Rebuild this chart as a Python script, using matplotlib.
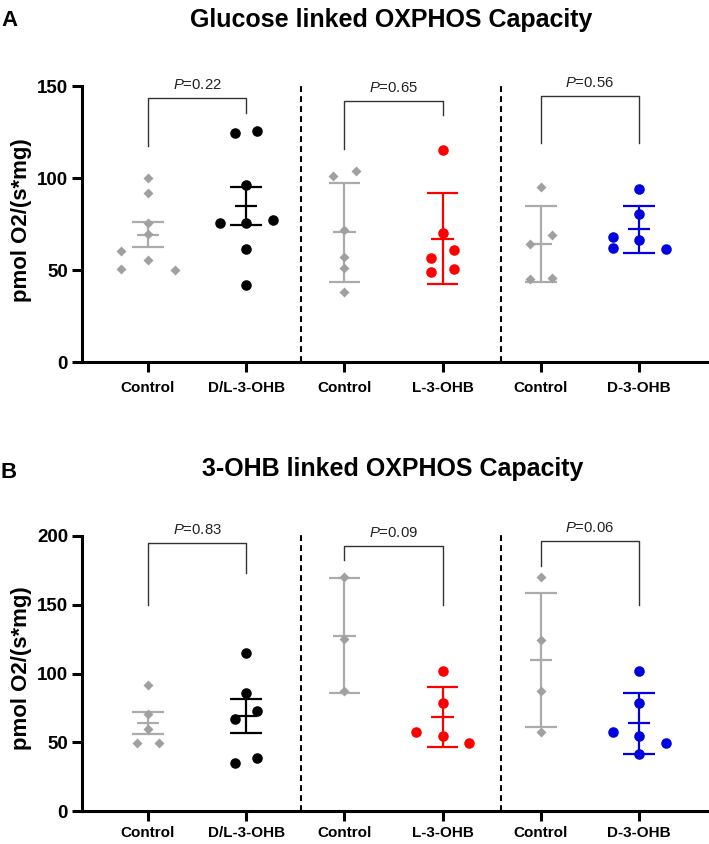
import numpy as np
import matplotlib
matplotlib.use("Agg")
import matplotlib.pyplot as plt

plt.rcParams['font.family'] = ['Liberation Sans', 'DejaVu Sans']
plt.rcParams['mathtext.fontset'] = 'custom'
plt.rcParams['mathtext.rm'] = 'Liberation Sans'
plt.rcParams['mathtext.it'] = 'Liberation Sans:italic'

groups = ["Control", "D/L-3-OHB", "Control", "L-3-OHB", "Control", "D-3-OHB"]
err_kind = ["sem", "sem", "sd", "sd", "sd", "sd"]

# A: glucose linked OXPHOS capacity
glc_ctrl_dl = [100.2, 91.8, 75.7, 69.4, 55.3, 50.2, 60.3, 50.7]
glc_dl = [124.5, 125.4, 96.0, 75.7, 77.0, 75.4, 61.4, 41.7]
glc_ctrl_l = [101.1, 103.6, 71.9, 57.0, 51.3, 38.0]
glc_l = [115.2, 70.3, 56.7, 60.7, 49.1, 50.4]
glc_ctrl_d = [95.3, 64.3, 69.2, 45.1, 45.5]
glc_d = [94.2, 80.2, 66.3, 67.9, 61.6, 62.1]
glc_p = ["0.22", "0.65", "0.56"]

# B: 3-OHB linked OXPHOS capacity
ohb_ctrl_dl = [91.9, 70.3, 59.4, 49.7, 49.7]
ohb_dl = [115.2, 85.6, 66.7, 73.0, 34.7, 38.8]
ohb_ctrl_l = [170.4, 124.8, 87.3]
ohb_l = [101.8, 78.3, 57.7, 49.2, 54.3]
ohb_ctrl_d = [170.4, 124.4, 87.5, 57.2]
ohb_d = [101.8, 78.3, 54.5, 57.2, 41.5, 49.2]
ohb_p = ["0.83", "0.09", "0.06"]

GRAY = '#a0a0a0'
GRAY_BAR = '#ababab'
styles = [('D', GRAY, GRAY_BAR), ('o', 'black', 'black'),
          ('D', GRAY, GRAY_BAR), ('o', '#ff0000', '#ff0000'),
          ('D', GRAY, GRAY_BAR), ('o', '#0000e0', '#0000e0')]


def swarm(vals, h, step=0.27, pair=0.115):
    # spread points that sit too close in y, roughly like Prism does
    vals = np.asarray(vals, float)
    order = np.argsort(-vals)
    offs = np.zeros(len(vals))
    clusters, cur = [], [order[0]]
    for i in order[1:]:
        if vals[cur[-1]] - vals[i] < h:
            cur.append(i)
        else:
            clusters.append(cur)
            cur = [i]
    clusters.append(cur)
    for c in clusters:
        if len(c) == 2:
            lo, hi = sorted(c, key=lambda k: vals[k])
            offs[lo], offs[hi] = -pair, pair
        elif len(c) > 2:
            cm = vals[c].mean()
            placed = []
            nside = 0
            for k in sorted(c, key=lambda k: abs(vals[k] - cm)):
                sgn = -1 if nside % 2 == 0 else 1
                for cand in (0, sgn * step, -sgn * step, 2 * sgn * step, -2 * sgn * step):
                    if all(abs(offs[j] - cand) > 1e-9 or abs(vals[j] - vals[k]) >= h for j in placed):
                        offs[k] = cand
                        break
                if offs[k] != 0:
                    nside += 1
                placed.append(k)
    return offs


def panel(ax, data, pvals, ymax, brackets, ax_h_px, xpad):
    h = 10.0 * ymax / ax_h_px
    for i, vals in enumerate(data):
        x0 = i + 1
        mk, col, bcol = styles[i]
        v = np.asarray(vals)
        m = v.mean()
        e = v.std(ddof=1)
        if err_kind[i] == "sem":
            e = e / np.sqrt(len(v))
        ax.vlines(x0, m - e, m + e, color=bcol, lw=1.6, zorder=2)
        ax.hlines([m - e, m + e], x0 - 0.16, x0 + 0.16, color=bcol, lw=1.6, zorder=2)
        ax.hlines(m, x0 - 0.115, x0 + 0.115, color=bcol, lw=1.6, zorder=2)
        ms = 5.3 if mk == 'D' else 7.6
        ax.plot(x0 + swarm(v, h), v, ls='none', marker=mk, ms=ms, color=col,
                mec='none', zorder=3)

    for j, (p, (yt, yl, yr)) in enumerate(zip(pvals, brackets)):
        x1, x2 = 2 * j + 1, 2 * j + 2
        ax.plot([x1, x1, x2, x2], [yl, yt, yt, yr], color='#333333', lw=1.0)
        ax.annotate(r'$\mathit{P}$=' + p, xy=((x1 + x2) / 2, yt), xytext=(0, 6.5),
                    textcoords='offset points', ha='center', va='baseline',
                    fontsize=10.7, color='#222222')

    for xd in (2.556, 4.59):
        ax.plot([xd, xd], [0, ymax * 1.008], color='black', lw=1.5,
                ls=(0, (2.8, 2.0)), clip_on=False)

    ax.set_xlim(0.328, 6.692)
    ax.set_ylim(0, ymax)
    ax.set_yticks(np.arange(0, ymax + 1, 50))
    ax.set_xticks(range(1, 7))
    ax.set_xticklabels(groups, fontsize=11, fontweight='bold')
    for t in ax.get_yticklabels():
        t.set_fontsize(13.5)
        t.set_fontweight('bold')
    ax.spines['top'].set_visible(False)
    ax.spines['right'].set_visible(False)
    ax.spines['left'].set_linewidth(2.2)
    ax.spines['bottom'].set_linewidth(2.2)
    ax.tick_params(axis='y', length=7, width=2.2, pad=3)
    ax.tick_params(axis='x', length=7, width=2.2, pad=xpad)


W, H = 709, 844
fig = plt.figure(figsize=(W / 100, H / 100), dpi=100)
ax1 = fig.add_axes([82 / W, (H - 362) / H, 625 / W, 276 / H])
ax2 = fig.add_axes([82 / W, (H - 811) / H, 625 / W, 275 / H])

panel(ax1, [glc_ctrl_dl, glc_dl, glc_ctrl_l, glc_l, glc_ctrl_d, glc_d], glc_p, 150,
      [(143.6, 117.4, 135.5), (142.0, 116.0, 134.0), (144.6, 118.8, 118.8)], 276, 6.5)
panel(ax2, [ohb_ctrl_dl, ohb_dl, ohb_ctrl_l, ohb_l, ohb_ctrl_d, ohb_d], ohb_p, 200,
      [(194.7, 149.8, 173.3), (193.0, 182.5, 149.8), (196.4, 178.2, 149.8)], 275, 3.5)

fig.text(391 / W, 1 - 20 / H, "Glucose linked OXPHOS Capacity", ha='center', va='center',
         fontsize=18, fontweight='bold')
fig.text(393 / W, 1 - 469 / H, "3-OHB linked OXPHOS Capacity", ha='center', va='center',
         fontsize=18, fontweight='bold')
fig.text(1 / W, 1 - 20 / H, "A", ha='left', va='center', fontsize=16, fontweight='bold')
fig.text(1 / W, 1 - 472 / H, "B", ha='left', va='center', fontsize=16, fontweight='bold')
fig.text(21.5 / W, 1 - 220 / H, "pmol O2/(s*mg)", rotation=90, ha='center', va='center',
         fontsize=16, fontweight='bold')
fig.text(21.5 / W, 1 - 668 / H, "pmol O2/(s*mg)", rotation=90, ha='center', va='center',
         fontsize=16, fontweight='bold')

fig.savefig("out.png", dpi=100)
